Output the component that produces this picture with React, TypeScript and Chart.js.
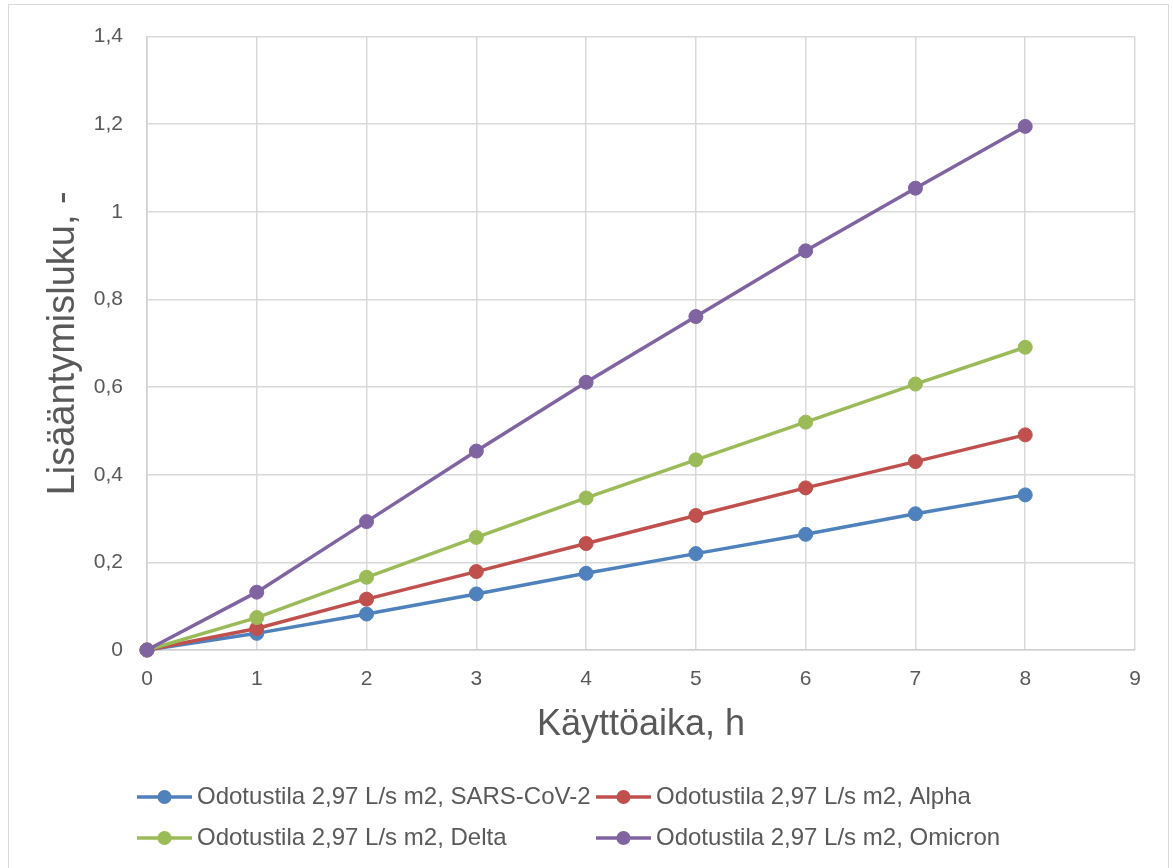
import React, { useEffect, useRef } from "react";
import { Chart, registerables } from "chart.js";

Chart.register(...registerables);

// Operating hours
const hours = [0, 1, 2, 3, 4, 5, 6, 7, 8];

// Reproduction number per variant, waiting room 2,97 L/s m2
const sarsCov2 = [0, 0.038, 0.082, 0.128, 0.175, 0.22, 0.264, 0.311, 0.354];
const alpha = [0, 0.049, 0.116, 0.179, 0.243, 0.307, 0.37, 0.43, 0.491];
const delta = [0, 0.074, 0.166, 0.257, 0.347, 0.434, 0.52, 0.607, 0.691];
const omicron = [0, 0.132, 0.293, 0.454, 0.611, 0.761, 0.911, 1.054, 1.195];

const seriesLabels = [
  "Odotustila 2,97 L/s m2, SARS-CoV-2",
  "Odotustila 2,97 L/s m2, Alpha",
  "Odotustila 2,97 L/s m2, Delta",
  "Odotustila 2,97 L/s m2, Omicron",
];
const seriesColors = ["#4f81bd", "#c0504d", "#9bbb59", "#8064a2"];
const seriesValues = [sarsCov2, alpha, delta, omicron];

const xTitle = "Käyttöaika, h";
const yTitle = "Lisääntymisluku, -";

const FONT = '"Liberation Sans", Arial, sans-serif';
const TEXT = "#595959";
const GRID = "#d9d9d9";

// Two-column legend below the plot, drawn onto the canvas
const gridLegend = {
  id: "gridLegend",
  afterDraw(chart: any) {
    const ctx = chart.ctx as CanvasRenderingContext2D;
    const cols = [137, 596];
    const rows = [797, 838];
    ctx.save();
    chart.data.datasets.forEach((ds: any, i: number) => {
      const x = cols[i % 2];
      const y = rows[Math.floor(i / 2)];
      ctx.strokeStyle = ds.borderColor;
      ctx.lineWidth = 3.5;
      ctx.beginPath();
      ctx.moveTo(x, y);
      ctx.lineTo(x + 55, y);
      ctx.stroke();
      ctx.fillStyle = ds.backgroundColor;
      ctx.beginPath();
      ctx.arc(x + 27.5, y, 7, 0, Math.PI * 2);
      ctx.fill();
      ctx.fillStyle = TEXT;
      ctx.font = `24px ${FONT}`;
      ctx.textBaseline = "middle";
      ctx.textAlign = "left";
      ctx.fillText(ds.label, x + 60, y);
    });
    ctx.restore();
  },
};

const fmt = (v: number) => String(Number(v.toFixed(1))).replace(".", ",");

export default function App() {
  const ref = useRef<HTMLCanvasElement | null>(null);

  useEffect(() => {
    if (!ref.current) return;
    const chart = new Chart(ref.current, {
      type: "line",
      data: {
        datasets: seriesValues.map((vals, i) => ({
          label: seriesLabels[i],
          data: hours.map((h, j) => ({ x: h, y: vals[j] })),
          borderColor: seriesColors[i],
          backgroundColor: seriesColors[i],
          borderWidth: 3.5,
          pointRadius: 7,
          pointBorderWidth: 1,
          pointBackgroundColor: seriesColors[i],
          pointBorderColor: seriesColors[i],
          tension: 0,
          clip: false as any,
          order: 4 - i,
        })),
      },
      options: {
        responsive: false,
        animation: false,
        layout: { padding: { left: 0, top: 33, right: 38, bottom: 108 } },
        plugins: {
          legend: { display: false },
          tooltip: { enabled: false },
        },
        scales: {
          x: {
            type: "linear",
            min: 0,
            max: 9,
            ticks: {
              stepSize: 1,
              padding: 17,
              color: TEXT,
              font: { family: FONT, size: 21 },
              callback: (v: any) => fmt(Number(v)),
            },
            grid: { color: GRID, lineWidth: 1.5, drawTicks: false },
            border: { color: "#d0d0d0", width: 1.5 },
            title: {
              display: true,
              text: xTitle,
              color: TEXT,
              font: { family: FONT, size: 36 },
              padding: { top: 0, bottom: 13 },
            },
            afterFit: (scale: any) => {
              scale.height = 110;
            },
          },
          y: {
            type: "linear",
            min: 0,
            max: 1.4,
            ticks: {
              stepSize: 0.2,
              padding: 24,
              color: TEXT,
              font: { family: FONT, size: 21 },
              callback: (v: any) => fmt(Number(v)),
            },
            grid: { color: GRID, lineWidth: 1.5, drawTicks: false },
            border: { color: "#d0d0d0", width: 1.5 },
            title: {
              display: true,
              text: yTitle,
              color: TEXT,
              font: { family: FONT, size: 38 },
              padding: { top: 41, bottom: 0 },
            },
            afterFit: (scale: any) => {
              scale.width = 147;
            },
          },
        },
      },
      plugins: [gridLegend],
    });
    return () => chart.destroy();
  }, []);

  return (
    <div
      style={{
        position: "fixed",
        left: 0,
        top: 0,
        width: 1173,
        height: 868,
        overflow: "hidden",
        background: "#ffffff",
      }}
    >
      <div
        style={{
          position: "absolute",
          left: 8,
          top: 4,
          width: 1161,
          height: 900,
          border: "1.5px solid #d9d9d9",
          boxSizing: "border-box",
        }}
      />
      <canvas
        ref={ref}
        width={1173}
        height={868}
        style={{ position: "absolute", left: 0, top: 0, width: 1173, height: 868 }}
      />
    </div>
  );
}
